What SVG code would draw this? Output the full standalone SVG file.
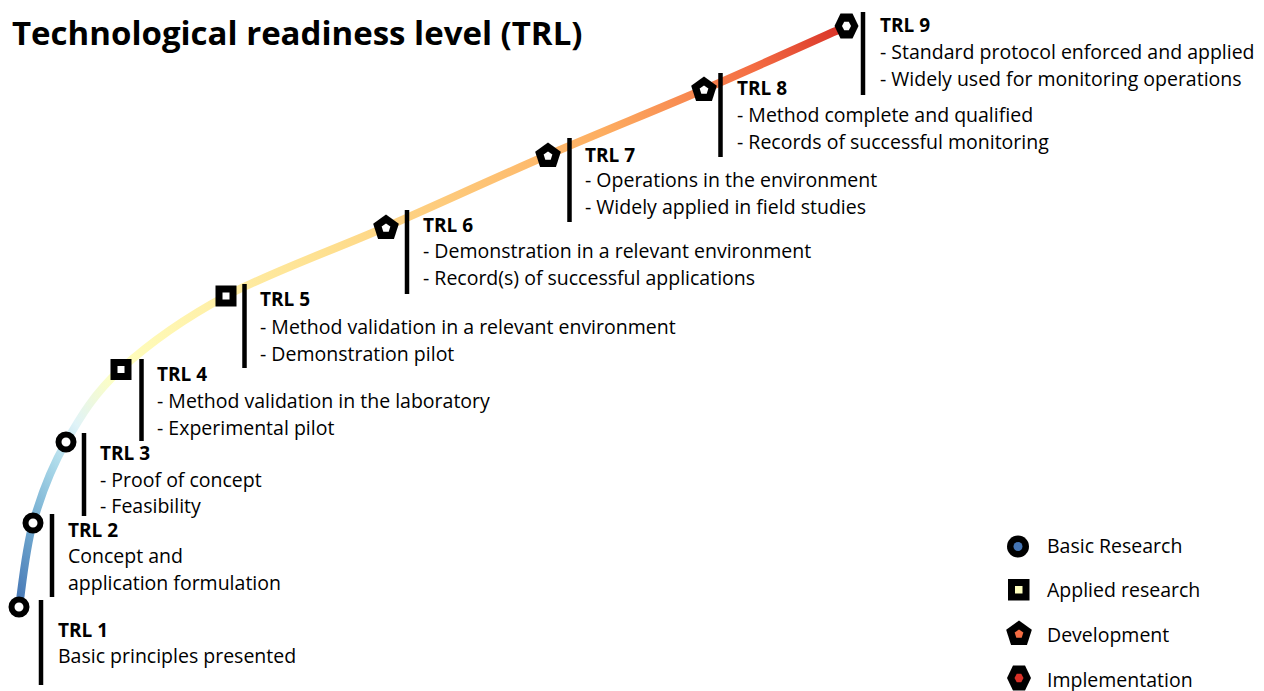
<svg xmlns="http://www.w3.org/2000/svg" width="1264" height="691" viewBox="0 0 1264 691">
<style>
.t{font-family:"Open Sans","Liberation Sans",sans-serif;font-size:19.5px;fill:#000}
.b{font-weight:bold;font-size:19px}
.title{font-family:"Open Sans","Liberation Sans",sans-serif;font-size:33px;font-weight:bold;fill:#000}
.bar{stroke:#000;stroke-width:4.5}
.ring{fill:#fff;stroke:#000;stroke-width:6}
</style>
<defs>
<linearGradient id="g" gradientUnits="userSpaceOnUse" x1="19" y1="607" x2="847" y2="26">
<stop offset="0" stop-color="#4575b4"/>
<stop offset="0.06" stop-color="#74add1"/>
<stop offset="0.11" stop-color="#abd9e9"/>
<stop offset="0.15" stop-color="#e0f3f8"/>
<stop offset="0.21" stop-color="#ffffbf"/>
<stop offset="0.45" stop-color="#fee090"/>
<stop offset="0.74" stop-color="#fdae61"/>
<stop offset="0.9" stop-color="#f46d43"/>
<stop offset="1" stop-color="#d73027"/>
</linearGradient>
<polygon id="pent" points="0,-13.5 12.84,-4.17 7.94,10.92 -7.94,10.92 -12.84,-4.17"/>
<polygon id="pentIn" points="0,-4.6 4.37,-1.42 2.7,3.72 -2.7,3.72 -4.37,-1.42"/>
<polygon id="hex" points="-12,0 -6,-12.5 6,-12.5 12,0 6,12.5 -6,12.5"/>
<polygon id="hexIn" points="-4.5,0 -2.25,-4.2 2.25,-4.2 4.5,0 2.25,4.2 -2.25,4.2"/>
</defs>

<text class="title" x="12" y="45">Technological readiness level (TRL)</text>

<g id="connectors">
<path d="M19,607 C21.3,593 25.2,550.5 33,523 C40.8,495.5 51.3,467.7 66,442 C80.7,416.3 94.3,393.3 121,369 C147.7,344.7 181.8,319.7 226,296 C270.2,272.3 332.3,250.5 386,227 C439.7,203.5 494.8,178 548,155 C601.2,132 655.2,110.5 705,89 C754.8,67.5 823.3,36.5 847,26" fill="none" stroke="url(#g)" stroke-width="8"/>
</g>

<g id="trl1">
<line class="bar" x1="41" y1="600" x2="41" y2="685"/>
<circle class="ring" cx="19" cy="607" r="7.5"/>
<text class="t b" x="58" y="637">TRL 1</text>
<text class="t" x="58" y="663">Basic principles presented</text>
</g>
<g id="trl2">
<line class="bar" x1="52" y1="514" x2="52" y2="597"/>
<circle class="ring" cx="33" cy="523" r="7.5"/>
<text class="t b" x="68" y="537">TRL 2</text>
<text class="t" x="68" y="563">Concept and</text>
<text class="t" x="68" y="590">application formulation</text>
</g>
<g id="trl3">
<line class="bar" x1="84" y1="433" x2="84" y2="516"/>
<circle class="ring" cx="66" cy="442" r="7.5"/>
<text class="t b" x="100" y="460">TRL 3</text>
<text class="t" x="100" y="487">- Proof of concept</text>
<text class="t" x="100" y="513">- Feasibility</text>
</g>
<g id="trl4">
<line class="bar" x1="141.5" y1="359" x2="141.5" y2="441"/>
<rect x="110.5" y="359" width="21" height="21" fill="#000"/>
<rect x="117.5" y="366" width="7" height="7" fill="#fff"/>
<text class="t b" x="157" y="381">TRL 4</text>
<text class="t" x="157" y="408">- Method validation in the laboratory</text>
<text class="t" x="157" y="435">- Experimental pilot</text>
</g>
<g id="trl5">
<line class="bar" x1="244.5" y1="284" x2="244.5" y2="368"/>
<rect x="215.5" y="285.5" width="21" height="21" fill="#000"/>
<rect x="222.5" y="292.5" width="7" height="7" fill="#fff"/>
<text class="t b" x="260" y="306">TRL 5</text>
<text class="t" x="260" y="334">- Method validation in a relevant environment</text>
<text class="t" x="260" y="361">- Demonstration pilot</text>
</g>
<g id="trl6">
<line class="bar" x1="407" y1="210" x2="407" y2="294"/>
<use href="#pent" x="386" y="228"/>
<use href="#pentIn" x="386" y="228" fill="#fff"/>
<text class="t b" x="423" y="232">TRL 6</text>
<text class="t" x="423" y="258">- Demonstration in a relevant environment</text>
<text class="t" x="423" y="285">- Record(s) of successful applications</text>
</g>
<g id="trl7">
<line class="bar" x1="569.5" y1="138" x2="569.5" y2="222"/>
<use href="#pent" x="548" y="156"/>
<use href="#pentIn" x="548" y="156" fill="#fff"/>
<text class="t b" x="585" y="162">TRL 7</text>
<text class="t" x="585" y="187">- Operations in the environment</text>
<text class="t" x="585" y="214">- Widely applied in field studies</text>
</g>
<g id="trl8">
<line class="bar" x1="720.5" y1="73" x2="720.5" y2="157"/>
<use href="#pent" x="704" y="90"/>
<use href="#pentIn" x="704" y="90" fill="#fff"/>
<text class="t b" x="737" y="95">TRL 8</text>
<text class="t" x="737" y="122">- Method complete and qualified</text>
<text class="t" x="737" y="149">- Records of successful monitoring</text>
</g>
<g id="trl9">
<line class="bar" x1="863" y1="12" x2="863" y2="95"/>
<use href="#hex" x="846.5" y="26"/>
<use href="#hexIn" x="846.5" y="26" fill="#fff"/>
<text class="t b" x="880" y="32">TRL 9</text>
<text class="t" x="880" y="59">- Standard protocol enforced and applied</text>
<text class="t" x="880" y="86">- Widely used for monitoring operations</text>
</g>

<g id="legend">
<circle cx="1018" cy="546.5" r="11" fill="#000"/>
<circle cx="1018" cy="546.5" r="4.5" fill="#4575b4"/>
<text class="t" x="1047" y="553">Basic Research</text>
<rect x="1008" y="579" width="21.5" height="21.5" fill="#000"/>
<rect x="1015" y="586" width="7.5" height="7.5" fill="#ffffbf"/>
<text class="t" x="1047" y="597">Applied research</text>
<use href="#pent" x="1019" y="634"/>
<use href="#pentIn" x="1019" y="634" fill="#f46d43"/>
<text class="t" x="1047" y="642">Development</text>
<use href="#hex" x="1019" y="678"/>
<use href="#hexIn" x="1019" y="678" fill="#d73027"/>
<text class="t" x="1047" y="687">Implementation</text>
</g>
</svg>
